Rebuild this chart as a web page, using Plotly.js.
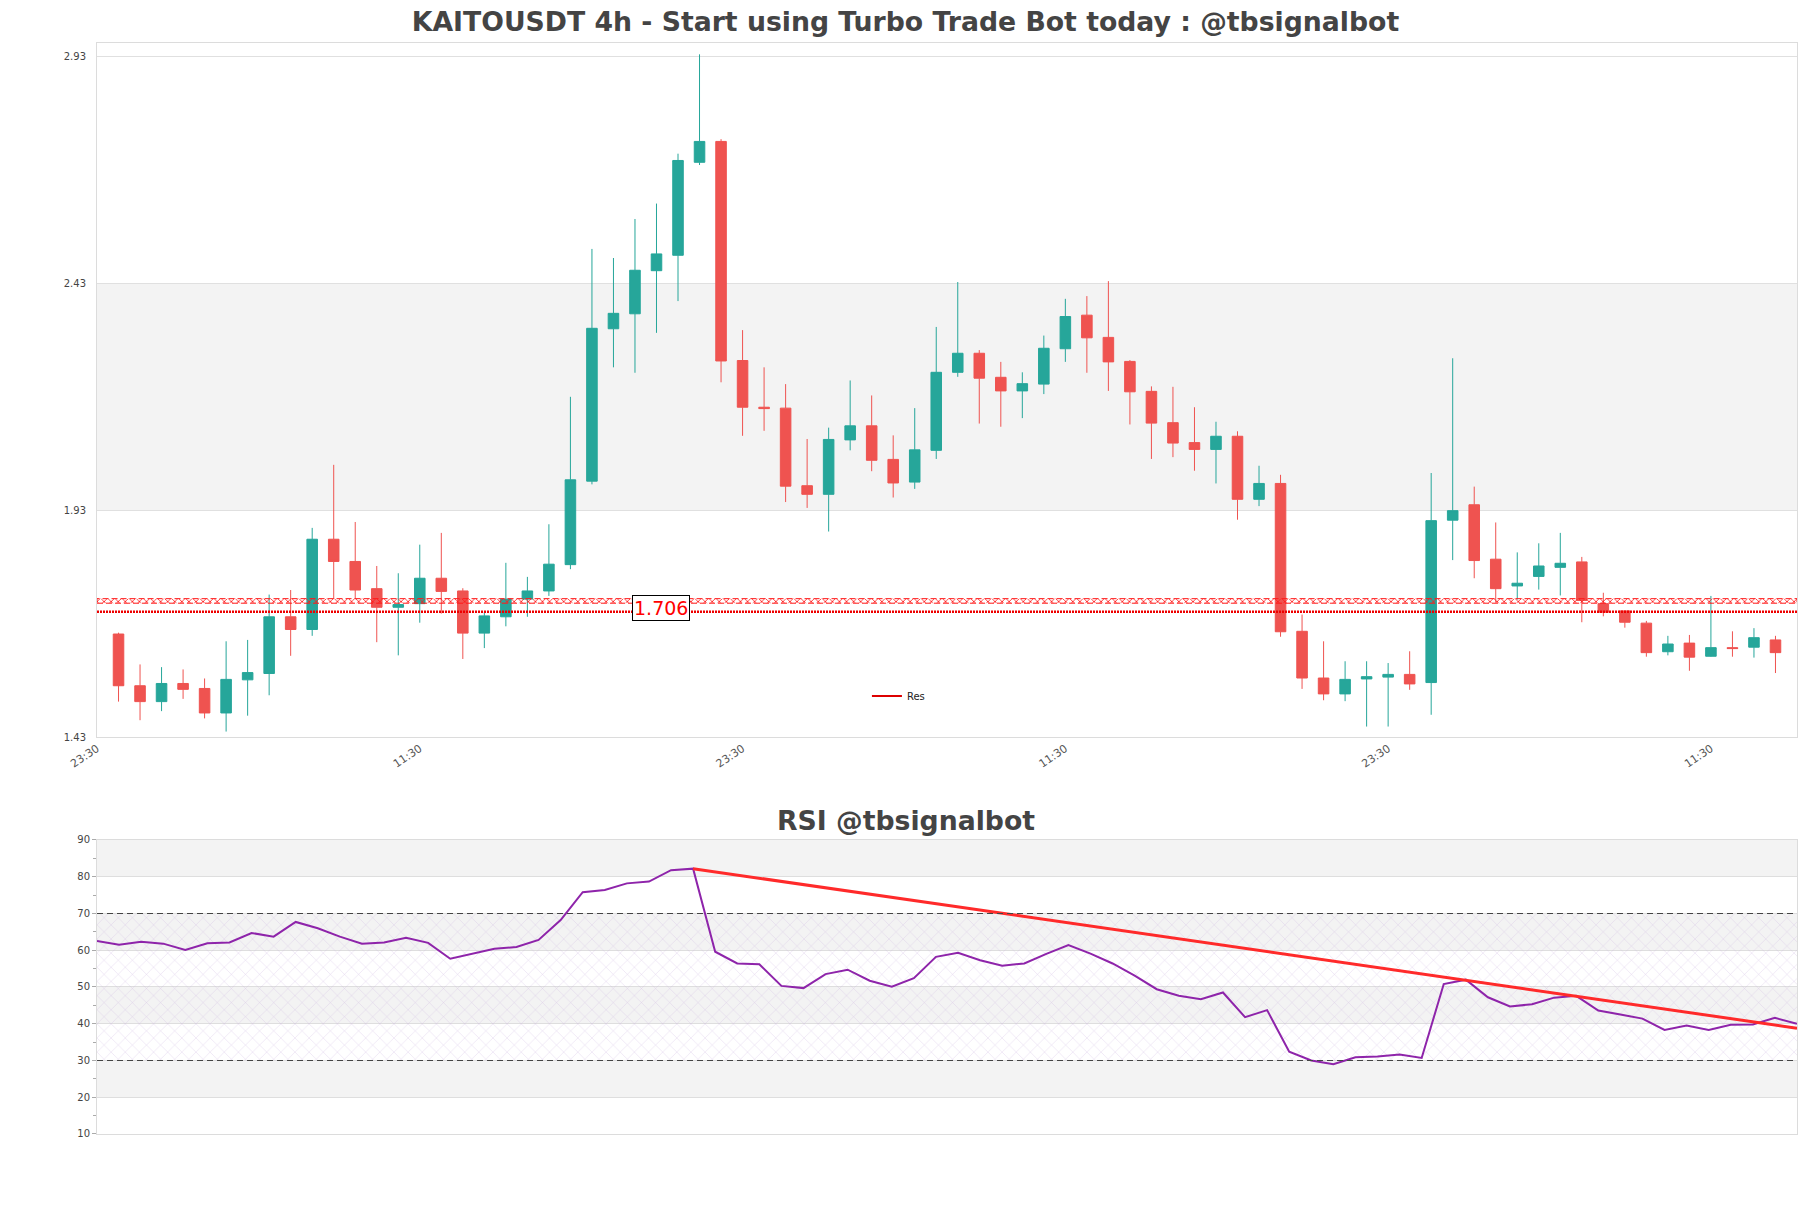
<!DOCTYPE html>
<html><head><meta charset="utf-8">
<script src="https://cdn.plot.ly/plotly-3.0.1.min.js"></script>
<style>html,body{margin:0;padding:0;background:#fff}#chart{width:1811px;height:1208px}</style>
</head><body><div id="chart"></div>
<script>
// ---- data ----
const startTime = [2025, 2, 10, 23, 30];   // axis starts 23:30, candles every 4h after
const candleHours = 4;
const openP = [1.657,1.543,1.508,1.548,1.537,1.483,1.556,1.570,1.695,1.667,
  1.866,1.817,1.757,1.716,1.724,1.780,1.752,1.659,1.695,1.734,
  1.752,1.810,1.994,2.330,2.363,2.458,2.492,2.697,2.743,2.260,
  2.157,2.155,1.984,1.965,2.085,2.116,2.042,1.992,2.062,2.234,
  2.276,2.223,2.193,2.208,2.286,2.360,2.311,2.258,2.192,2.123,
  2.079,2.064,2.093,1.954,1.989,1.663,1.560,1.525,1.558,1.562,
  1.568,1.550,1.908,1.942,1.822,1.763,1.784,1.804,1.816,1.724,
  1.708,1.681,1.618,1.637,1.608,1.627,1.628,1.644];
const highP = [1.660,1.590,1.584,1.579,1.559,1.641,1.644,1.744,1.754,1.891,
  2.030,1.904,1.807,1.791,1.854,1.880,1.758,1.705,1.814,1.783,
  1.899,2.180,2.506,2.486,2.572,2.606,2.716,2.935,2.748,2.327,
  2.245,2.208,2.087,2.112,2.216,2.183,2.095,2.155,2.334,2.433,
  2.283,2.257,2.234,2.315,2.396,2.402,2.435,2.261,2.203,2.202,
  2.157,2.125,2.104,2.028,2.008,1.700,1.641,1.597,1.597,1.593,
  1.619,2.012,2.265,1.982,1.903,1.837,1.857,1.880,1.827,1.748,
  1.708,1.686,1.653,1.655,1.741,1.663,1.670,1.653];
const lowP = [1.508,1.467,1.487,1.514,1.471,1.442,1.477,1.522,1.609,1.653,
  1.734,1.734,1.639,1.610,1.682,1.702,1.602,1.626,1.674,1.695,
  1.741,1.800,1.987,2.245,2.233,2.321,2.391,2.691,2.212,2.094,
  2.105,1.948,1.935,1.883,2.062,2.016,1.958,1.977,2.043,2.224,
  2.121,2.114,2.133,2.186,2.257,2.233,2.193,2.119,2.043,2.047,
  2.017,1.989,1.909,1.939,1.651,1.536,1.511,1.509,1.453,1.453,
  1.534,1.479,1.820,1.780,1.727,1.733,1.755,1.742,1.683,1.696,
  1.671,1.607,1.610,1.576,1.607,1.607,1.605,1.571];
const closeP = [1.543,1.508,1.548,1.535,1.483,1.557,1.572,1.695,1.667,1.866,
  1.817,1.754,1.716,1.722,1.780,1.751,1.659,1.697,1.734,1.752,
  1.811,1.997,2.331,2.364,2.459,2.495,2.701,2.743,2.259,2.157,
  2.154,1.983,1.965,2.086,2.116,2.040,1.990,2.063,2.234,2.276,
  2.221,2.193,2.209,2.287,2.357,2.310,2.257,2.191,2.122,2.078,
  2.064,2.093,1.954,1.989,1.662,1.560,1.525,1.557,1.563,1.568,
  1.547,1.907,1.929,1.819,1.757,1.769,1.807,1.813,1.731,1.705,
  1.683,1.616,1.635,1.606,1.627,1.625,1.649,1.616];
const rsiValues = [62.5,61.5,62.3,61.8,60.1,61.9,62.1,64.7,63.7,67.7,
  66.0,63.7,61.8,62.1,63.4,62.0,57.7,59.1,60.4,60.9,
  62.8,68.2,75.8,76.4,78.2,78.7,81.8,82.2,59.6,56.4,
  56.2,50.3,49.7,53.5,54.7,51.7,50.1,52.4,58.2,59.3,
  57.3,55.8,56.4,59.0,61.4,59.1,56.4,53.1,49.4,47.6,
  46.7,48.5,41.8,43.7,32.4,30.0,29.0,30.9,31.1,31.6,
  30.7,50.8,52.0,47.2,44.7,45.3,47.1,47.6,43.6,42.5,
  41.4,38.3,39.5,38.3,39.7,39.8,41.6,40.0];
const rsiTrendX = [27, 77];
const rsiTrendY = [82.2, 38.8];
const resLevel = 1.706;
const resBand = [1.725, 1.735];
const priceTicks = [1.43, 1.93, 2.43, 2.93];
const priceTickText = ['1.43', '1.93', '2.43', '2.93'];
const rsiTicks = [10, 20, 30, 40, 50, 60, 70, 80, 90];

// ---- helpers ----
const H = 3600 * 1000;
const t0 = Date.UTC(startTime[0], startTime[1], startTime[2], startTime[3], startTime[4]);
const fmt = ms => new Date(ms).toISOString().slice(0, 19).replace('T', ' ');
const times = openP.map((_, i) => fmt(t0 + (i + 1) * candleHours * H));
const xStart = fmt(t0);
const xEnd = fmt(t0 + (openP.length + 1) * candleHours * H);
const rsiX = rsiValues.map((_, i) => i);
const rsiMax = rsiValues.length - 1;

const traces = [
  {type: 'candlestick', x: times, open: openP, high: highP, low: lowP, close: closeP,
   xaxis: 'x', yaxis: 'y', showlegend: false, whiskerwidth: 0,
   increasing: {line: {color: '#26a69a', width: 1}, fillcolor: '#26a69a'},
   decreasing: {line: {color: '#ef5350', width: 1}, fillcolor: '#ef5350'}},
  {type: 'scatter', mode: 'lines', x: [xStart, xEnd, xEnd, xStart, xStart],
   y: [resBand[0], resBand[0], resBand[1], resBand[1], resBand[0]],
   fill: 'toself', fillcolor: 'rgba(0,0,0,0)',
   fillpattern: {shape: 'x', fgcolor: '#ff1a1a', size: 5, solidity: 0.3},
   line: {color: '#ff1a1a', width: 1, dash: '6px,3px'}, showlegend: false, hoverinfo: 'skip',
   xaxis: 'x', yaxis: 'y'},
  {type: 'scatter', mode: 'lines', x: [xStart, xEnd], y: [resLevel, resLevel],
   line: {color: '#ee0000', width: 2.5, dash: '2px,1px'}, showlegend: false,
   xaxis: 'x', yaxis: 'y'},
  {type: 'scatter', mode: 'lines', x: [null], y: [null], name: 'Res',
   line: {color: '#dd0000', width: 2}, xaxis: 'x', yaxis: 'y'},
  {type: 'scatter', mode: 'lines', x: [0, rsiMax, rsiMax, 0, 0], y: [30, 30, 70, 70, 30],
   fill: 'toself', fillcolor: 'rgba(0,0,0,0)',
   fillpattern: {shape: 'x', fgcolor: 'rgba(200,170,220,0.6)', size: 10, solidity: 0.08},
   line: {width: 0}, showlegend: false, hoverinfo: 'skip', xaxis: 'x2', yaxis: 'y2'},
  {type: 'scatter', mode: 'lines', x: rsiX, y: rsiValues,
   line: {color: '#8e24aa', width: 2}, showlegend: false, xaxis: 'x2', yaxis: 'y2'},
  {type: 'scatter', mode: 'lines', x: rsiTrendX, y: rsiTrendY,
   line: {color: '#ff2a2a', width: 3}, showlegend: false, xaxis: 'x2', yaxis: 'y2'}
];

const band = (xr, yr, y0, y1) => ({type: 'rect', xref: xr, yref: yr, x0: 0, x1: 1, y0: y0, y1: y1,
  fillcolor: '#f3f3f3', line: {width: 0}, layer: 'below'});
const hline = (y) => ({type: 'line', xref: 'x2 domain', yref: 'y2', x0: 0, x1: 1, y0: y, y1: y,
  line: {color: '#444', width: 1.2, dash: '6px,4px'}, layer: 'above'});

const layout = {
  width: 1811, height: 1208,
  margin: {l: 97, r: 14, t: 43, b: 74},
  paper_bgcolor: '#ffffff', plot_bgcolor: '#ffffff',
  font: {family: 'DejaVu Sans', color: '#444', size: 10},
  title: {text: 'KAITOUSDT 4h - Start using Turbo Trade Bot today : @tbsignalbot',
    font: {family: 'DejaVu Sans', size: 26.7, color: '#444', weight: 'bold'},
    x: 0.5, xref: 'container', xanchor: 'center', y: 1 - 22 / 1208, yref: 'container', yanchor: 'middle'},
  showlegend: true,
  legend: {x: 0.4529, y: 0.4015, xanchor: 'left', yanchor: 'middle', bgcolor: 'rgba(0,0,0,0)',
    font: {size: 10, color: '#222'}},
  xaxis: {type: 'date', anchor: 'y', domain: [0, 1], range: [xStart, xEnd],
    tick0: xStart, dtick: 60 * H, tickformat: '%H:%M', tickangle: -34,
    tickfont: {size: 11, color: '#555'}, showgrid: false, zeroline: false,
    showline: true, mirror: true, linecolor: '#dcdcdc', linewidth: 1,
    rangeslider: {visible: false}},
  yaxis: {anchor: 'x', domain: [0.36389, 1], range: [1.43, 2.96],
    tickvals: priceTicks, ticktext: priceTickText, tickfont: {size: 10, color: '#444'},
    showgrid: true, gridcolor: '#e0e0e0', zeroline: false,
    showline: true, mirror: true, linecolor: '#dcdcdc', linewidth: 1,
    ticks: 'outside', ticklen: 8, tickcolor: 'rgba(0,0,0,0)'},
  xaxis2: {anchor: 'y2', domain: [0, 1], range: [0, rsiMax], showticklabels: false,
    showgrid: false, zeroline: false, showline: true, mirror: true, linecolor: '#dcdcdc'},
  yaxis2: {anchor: 'x2', domain: [0, 0.26948], range: [10, 90], tickvals: rsiTicks,
    tickfont: {size: 10, color: '#444'}, showgrid: true, gridcolor: '#dedede', zeroline: false,
    showline: true, mirror: true, linecolor: '#dcdcdc',
    ticks: 'outside', ticklen: 4, tickcolor: '#aaa',
    minor: {dtick: 5, tick0: 5, ticks: 'outside', ticklen: 3, tickcolor: '#aaa', showgrid: false}},
  shapes: [
    band('x domain', 'y', 1.93, 2.43),
    band('x2 domain', 'y2', 80, 90),
    band('x2 domain', 'y2', 60, 70),
    band('x2 domain', 'y2', 40, 50),
    band('x2 domain', 'y2', 20, 30),
    hline(70), hline(30)
  ],
  annotations: [
    {text: 'RSI @tbsignalbot', xref: 'paper', yref: 'paper', x: 0.4759, y: 0.2878,
     showarrow: false, xanchor: 'center', yanchor: 'middle',
     font: {family: 'DejaVu Sans', size: 26.7, color: '#444', weight: 'bold'}},
    {text: String(resLevel), xref: 'paper', yref: 'y', x: 0.3318, y: resLevel, yshift: 4,
     showarrow: false, xanchor: 'center', yanchor: 'middle',
     font: {family: 'DejaVu Sans', size: 19, color: '#ff0000'},
     bgcolor: '#ffffff', bordercolor: '#000000', borderwidth: 1, borderpad: 1}
  ]
};

Plotly.newPlot('chart', traces, layout, {displayModeBar: false, staticPlot: true});
</script>
</body></html>
